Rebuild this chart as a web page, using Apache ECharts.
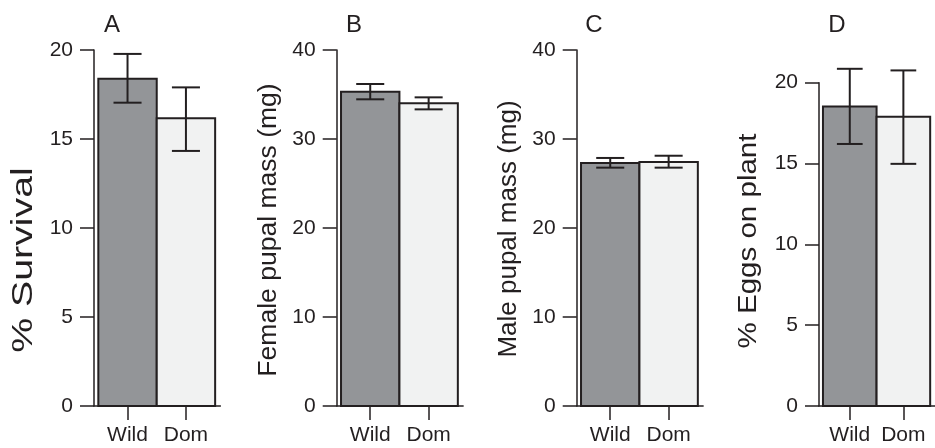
<!DOCTYPE html>
<html>
<head>
<meta charset="utf-8">
<script src="https://cdn.jsdelivr.net/npm/echarts@6/dist/echarts.min.js"></script>
<style>
html,body{margin:0;padding:0;background:#fff;}
#chart{width:935px;height:448px;}
</style>
</head>
<body>
<div id="chart"></div>
<script>
// ---- data ----
const categories = ['Wild', 'Dom'];
const panelLetters = ['A', 'B', 'C', 'D'];
const axisTitles = ['% Survival', 'Female pupal mass (mg)', 'Male pupal mass (mg)', '% Eggs on plant'];

const survivalMean = [18.39, 16.16];
const survivalLow = [17.04, 14.33];
const survivalHigh = [19.78, 17.90];

const femaleMassMean = [35.32, 34.01];
const femaleMassLow = [34.46, 33.33];
const femaleMassHigh = [36.18, 34.68];

const maleMassMean = [27.30, 27.42];
const maleMassLow = [26.78, 26.78];
const maleMassHigh = [27.87, 28.12];

const eggsMean = [18.52, 17.90];
const eggsLow = [16.21, 14.98];
const eggsHigh = [20.86, 20.76];

const yMax = [20, 40, 40, 20];
const yInterval = [5, 10, 10, 5];

// ---- style / layout ----
const INK = '#231f20';
const FILLS = ['#939598', '#f1f2f2'];
const FONT = "'Liberation Sans', Arial, Helvetica, sans-serif";
const gridLeft = [94, 336.7, 576.7, 819];
const gridTop = [50, 50, 50, 82.7];
const gridBottomY = 406;
const gridWidth = 126.4;
const titlePos = [[24, 260], [269, 230], [509, 229], [749, 241]];
const titleSize = [30, 26, 26, 26];
const titleStretch = [1.31, 1.02, 1.0, 1.135];
const letterPos = [[112, 25], [354, 25], [594, 25], [837, 25]];

const means = [survivalMean, femaleMassMean, maleMassMean, eggsMean];
const lows = [survivalLow, femaleMassLow, maleMassLow, eggsLow];
const highs = [survivalHigh, femaleMassHigh, maleMassHigh, eggsHigh];

const grids = [], xAxes = [], yAxes = [], series = [], graphics = [];

for (let p = 0; p < 4; p++) {
  grids.push({left: gridLeft[p], top: gridTop[p], width: gridWidth, height: gridBottomY - gridTop[p], containLabel: false});
  xAxes.push({
    type: 'value', gridIndex: p, min: -0.574, max: 1.59,
    axisLine: {show: true, onZero: false, lineStyle: {color: INK, width: 1.5}},
    axisTick: {show: true, customValues: [0, 1], length: 14, lineStyle: {color: INK, width: 1.5}},
    axisLabel: {show: true, customValues: [0, 1], formatter: v => categories[Math.round(v)], margin: 19,
      fontSize: 21, fontFamily: FONT, color: INK},
    splitLine: {show: false}
  });
  yAxes.push({
    type: 'value', gridIndex: p, min: 0, max: yMax[p], interval: yInterval[p],
    axisLine: {show: true, onZero: false, lineStyle: {color: INK, width: 1.5}},
    axisTick: {show: true, length: 14, lineStyle: {color: INK, width: 1.5}},
    axisLabel: {show: true, margin: 21, fontSize: 21, fontFamily: FONT, color: INK},
    splitLine: {show: false}
  });
  const barData = means[p].map((v, i) => [i, v]);
  series.push({
    type: 'custom', xAxisIndex: p, yAxisIndex: p, data: barData, z: 2,
    renderItem: function (params, api) {
      const i = api.value(0);
      const tl = api.coord([i - 0.5, api.value(1)]);
      const br = api.coord([i + 0.5, 0]);
      return {type: 'rect', shape: {x: tl[0], y: tl[1], width: br[0] - tl[0], height: br[1] - tl[1]},
        style: {fill: FILLS[i], stroke: INK, lineWidth: 2}};
    }
  });
  const errData = means[p].map((v, i) => [i, lows[p][i], highs[p][i]]);
  series.push({
    type: 'custom', xAxisIndex: p, yAxisIndex: p, data: errData, z: 3, clip: false,
    renderItem: function (params, api) {
      const i = api.value(0);
      const lo = api.coord([i, api.value(1)]);
      const hi = api.coord([i, api.value(2)]);
      const capL = api.coord([i - 0.24, 0])[0];
      const capR = api.coord([i + 0.24, 0])[0];
      const st = {stroke: INK, lineWidth: 2, fill: null};
      return {type: 'group', children: [
        {type: 'line', shape: {x1: lo[0], y1: lo[1], x2: hi[0], y2: hi[1]}, style: st},
        {type: 'line', shape: {x1: capL, y1: lo[1], x2: capR, y2: lo[1]}, style: st},
        {type: 'line', shape: {x1: capL, y1: hi[1], x2: capR, y2: hi[1]}, style: st}
      ]};
    }
  });
  graphics.push({type: 'text', x: titlePos[p][0], y: titlePos[p][1], rotation: Math.PI / 2,
    scaleX: titleStretch[p], scaleY: 1,
    style: {text: axisTitles[p], font: titleSize[p] + 'px ' + FONT, fill: INK, align: 'center', verticalAlign: 'middle'}});
  graphics.push({type: 'text', x: letterPos[p][0], y: letterPos[p][1],
    style: {text: panelLetters[p], font: '24px ' + FONT, fill: INK, align: 'center', verticalAlign: 'middle'}});
}

const chart = echarts.init(document.getElementById('chart'), null, {renderer: 'canvas'});
chart.setOption({
  animation: false,
  backgroundColor: '#ffffff',
  grid: grids, xAxis: xAxes, yAxis: yAxes, series: series, graphic: graphics
});
</script>
</body>
</html>
